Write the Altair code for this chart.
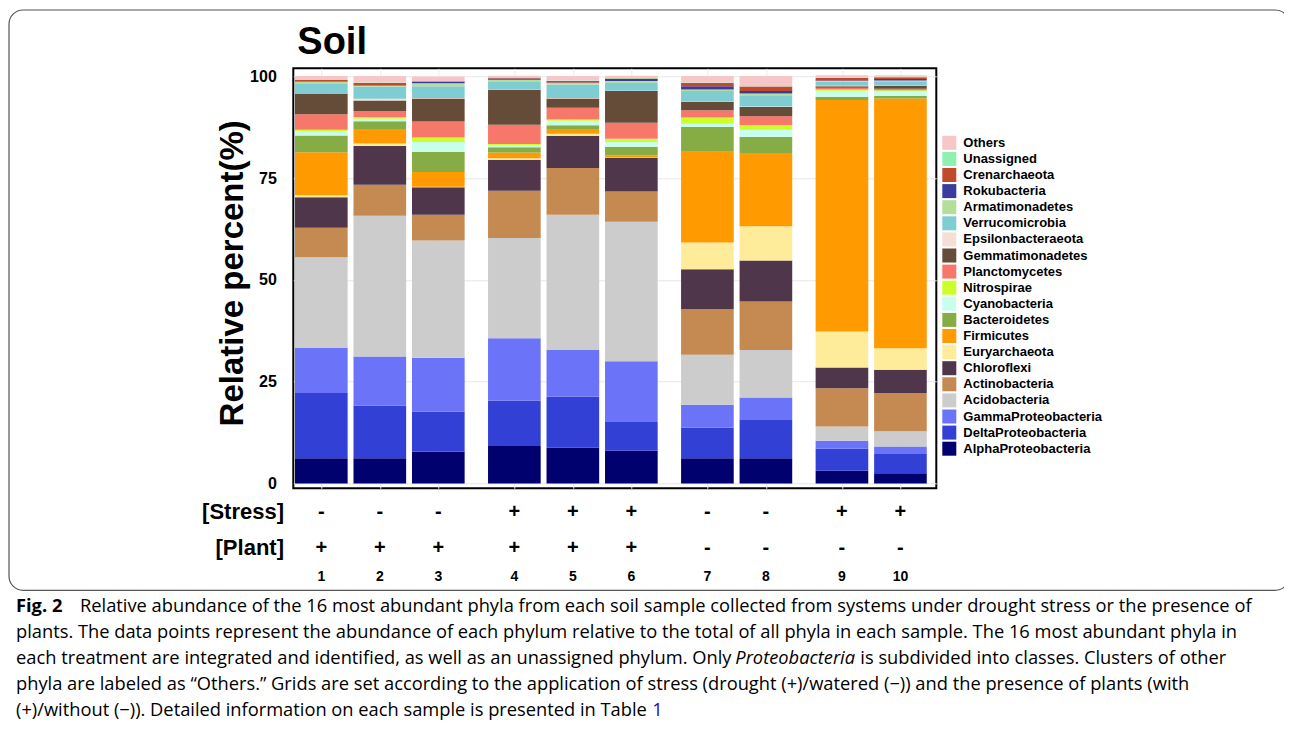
import altair as alt
import pandas as pd

# ---------------- data ----------------
samples = ["1", "2", "3", "4", "5", "6", "7", "8", "9", "10"]
stress = ["-", "-", "-", "+", "+", "+", "-", "-", "+", "+"]
plant = ["+", "+", "+", "+", "+", "+", "-", "-", "-", "-"]
group = [0, 0, 0, 1, 1, 1, 2, 2, 3, 3]

# stacking order, bottom -> top
phyla = ["AlphaProteobacteria", "DeltaProteobacteria", "GammaProteobacteria",
         "Acidobacteria", "Actinobacteria", "Chloroflexi", "Euryarchaeota",
         "Firmicutes", "Bacteroidetes", "Cyanobacteria", "Nitrospirae",
         "Planctomycetes", "Gemmatimonadetes", "Epsilonbacteraeota",
         "Verrucomicrobia", "Armatimonadetes", "Rokubacteria", "Crenarchaeota",
         "Unassigned", "Others"]
colors = ["#00006E", "#3340D6", "#6B73F9",
          "#CCCCCC", "#C48A52", "#50364B", "#FFEC9A",
          "#FF9A00", "#86AC45", "#C8FFEC", "#CCFF29",
          "#F7786B", "#654C39", "#F5DED2",
          "#7FCDD3", "#B2DF9A", "#3B3B9F", "#C24A2C",
          "#90F0B0", "#F7C6C7"]

alpha = [6.2, 6.2, 7.8, 9.2, 8.8, 8.0, 6.2, 6.2, 3.1, 2.5]
delta = [16.0, 12.9, 9.8, 11.1, 12.5, 7.1, 7.5, 9.4, 5.4, 4.7]
gamma = [11.1, 12.1, 13.3, 15.4, 11.5, 14.9, 5.6, 5.5, 2.0, 1.9]
acido = [22.3, 34.6, 28.8, 24.6, 33.2, 34.3, 12.3, 11.7, 3.5, 3.7]
actino = [7.2, 7.6, 6.3, 11.6, 11.5, 7.4, 11.2, 11.9, 9.4, 9.4]
chloro = [7.5, 9.5, 6.8, 7.6, 7.9, 8.4, 9.8, 10.1, 5.1, 5.7]
eury = [0.5, 0.6, 0.1, 0.4, 0.5, 0.1, 6.6, 8.4, 8.8, 5.3]
firm = [10.6, 3.6, 3.6, 1.4, 1.2, 0.4, 22.3, 18.0, 56.9, 61.4]
bact = [4.1, 1.9, 5.0, 1.3, 0.9, 2.1, 6.1, 3.9, 0.8, 0.6]
cyano = [1.1, 0.6, 2.4, 0.5, 1.1, 1.2, 0.8, 1.8, 1.5, 1.1]
nitro = [0.3, 0.4, 1.1, 0.3, 0.3, 0.8, 1.5, 1.1, 0.3, 0.3]
plancto = [3.8, 1.5, 3.9, 4.7, 2.9, 3.9, 1.8, 2.2, 0.4, 0.4]
gemm = [5.1, 2.6, 5.7, 8.6, 2.3, 7.8, 2.0, 2.3, 0.4, 0.7]
epsilon = [0.1, 0.4, 0.1, 0.1, 0.1, 0.1, 0.1, 0.1, 0.1, 0.1]
verruco = [2.4, 3.0, 2.9, 2.0, 3.3, 1.9, 2.6, 2.8, 1.0, 1.0]
armat = [0.4, 0.3, 0.7, 0.4, 0.4, 0.5, 0.4, 0.4, 0.2, 0.2]
roku = [0.1, 0.1, 0.4, 0.3, 0.1, 0.5, 0.8, 0.6, 0.1, 0.4]
cren = [0.4, 0.5, 0.1, 0.2, 0.4, 0.1, 0.8, 1.1, 0.6, 0.4]
unassigned = [0.1, 0.1, 0.1, 0.1, 0.1, 0.1, 0.1, 0.1, 0.1, 0.1]
others = [0.8, 1.6, 1.1, 0.4, 1.1, 0.6, 1.6, 2.5, 0.6, 0.4]

series = [alpha, delta, gamma, acido, actino, chloro, eury, firm, bact, cyano,
          nitro, plancto, gemm, epsilon, verruco, armat, roku, cren, unassigned, others]

y_ticks = [0, 25, 50, 75, 100]

rows = []
for r, (name, vals) in enumerate(zip(phyla, series)):
    for i, s in enumerate(samples):
        rows.append({"sample": s, "idx": i, "grp": group[i], "phylum": name,
                     "rank": r, "value": vals[i]})
df = pd.DataFrame(rows)

df_samples = pd.DataFrame({"sample": samples, "idx": list(range(len(samples))),
                           "grp": group, "stress": stress, "plant": plant})

GAP = 0.3
grid_pos = [i + GAP * g for i, g in enumerate(group)]

legend_order = phyla[::-1]
legend_colors = colors[::-1]

FONT = "Liberation Sans"
CAP_FONT = "Open Sans"
CAP_SIZE = 18.3

# ---------------- bars ----------------
bars = alt.Chart(df).transform_calculate(
    pos=f"datum.idx + {GAP} * datum.grp"
).transform_calculate(
    x0="datum.pos - 0.45", x1="datum.pos + 0.45"
).transform_stack(
    stack="value", groupby=["sample"], as_=["y0", "y1"],
    sort=[alt.SortField("rank", order="ascending")]
).mark_bar().encode(
    x=alt.X("x0:Q",
            scale=alt.Scale(domain=[-0.479, 10.513], nice=False, zero=False),
            axis=alt.Axis(values=grid_pos, labels=False, ticks=False, domain=False,
                          title=None, grid=True, gridColor="#EBEBEB", gridWidth=1)),
    x2="x1:Q",
    y=alt.Y("y0:Q",
            scale=alt.Scale(domain=[-1.2, 102.0], nice=False, zero=False),
            axis=alt.Axis(values=y_ticks, title=None, ticks=False, domain=False,
                          labelFont=FONT, labelFontSize=16, labelFontWeight="bold",
                          labelColor="black", labelPadding=17,
                          grid=True, gridColor="#E6E6E6", gridWidth=1)),
    y2="y1:Q",
    color=alt.Color("phylum:N",
                    scale=alt.Scale(domain=legend_order, range=legend_colors),
                    legend=alt.Legend(title=None, orient="none", legendX=649, legendY=67.5,
                                      symbolType="square", symbolSize=196,
                                      symbolStrokeWidth=0, symbolOpacity=1,
                                      labelFont=FONT, labelFontSize=13,
                                      labelFontWeight="bold", labelColor="black",
                                      labelOffset=7, rowPadding=2.1, padding=0,
                                      direction="vertical", columns=1,
                                      labelLimit=300)),
)

# ---------------- annotation helpers ----------------
def label(txt, x, y, size, weight="normal", align="left", font=FONT,
          color="black", angle=0, style="normal"):
    return alt.Chart(alt.Data(values=[{}])).mark_text(
        align=align, baseline="middle", font=font, fontSize=size,
        fontWeight=weight, color=color, angle=angle, fontStyle=style
    ).encode(x=alt.value(x), y=alt.value(y), text=alt.value(txt))


row_marks = alt.Chart(df_samples).transform_calculate(
    pos=f"datum.idx + {GAP} * datum.grp"
)
stress_txt = row_marks.mark_text(font=FONT, fontSize=20, fontWeight="bold",
                                 color="black", baseline="middle").encode(
    x="pos:Q", y=alt.value(443.7), text="stress:N")
plant_txt = row_marks.mark_text(font=FONT, fontSize=20, fontWeight="bold",
                                color="black", baseline="middle").encode(
    x="pos:Q", y=alt.value(479.7), text="plant:N")
num_txt = row_marks.mark_text(font=FONT, fontSize=14, fontWeight="bold",
                              color="black", baseline="middle").encode(
    x="pos:Q", y=alt.value(509), text="sample:N")

border = alt.Chart(alt.Data(values=[{}])).mark_rect(
    filled=False, stroke="#555555", strokeWidth=1.2, cornerRadius=14
).encode(x=alt.value(-284.3), x2=alt.value(996), y=alt.value(-58.3), y2=alt.value(522))

cap_y = [539, 565, 591, 617, 643]
CX = -277.3
caption = [
    label("Fig. 2", CX, cap_y[0], CAP_SIZE, weight="bold", font=CAP_FONT),
    label("Relative abundance of the 16 most abundant phyla from each soil sample collected from systems under drought stress or the presence of",
          -213.3, cap_y[0], CAP_SIZE, font=CAP_FONT),
    label("plants. The data points represent the abundance of each phylum relative to the total of all phyla in each sample. The 16 most abundant phyla in",
          CX, cap_y[1], CAP_SIZE, font=CAP_FONT),
    label("each treatment are integrated and identified, as well as an unassigned phylum. Only",
          CX, cap_y[2], CAP_SIZE, font=CAP_FONT),
    label("Proteobacteria", 442, cap_y[2], CAP_SIZE, font=CAP_FONT, style="italic"),
    label("is subdivided into classes. Clusters of other", 567, cap_y[2], CAP_SIZE, font=CAP_FONT),
    label("phyla are labeled as \u201cOthers.\u201d Grids are set according to the application of stress (drought (+)/watered (\u2212)) and the presence of plants (with",
          CX, cap_y[3], CAP_SIZE, font=CAP_FONT),
    label("(+)/without (\u2212)). Detailed information on each sample is presented in Table",
          CX, cap_y[4], CAP_SIZE, font=CAP_FONT),
    label("1", 359, cap_y[4], CAP_SIZE, font=CAP_FONT, color="#1A0DAB"),
]

texts = [
    label("Soil", 4, -25.5, 38, weight="bold"),
    label("Relative percent(%)", -60.3, 205, 33, weight="bold", align="center", angle=270),
    label("[Stress]", -9.3, 443.7, 22, weight="bold", align="right"),
    label("[Plant]", -9.3, 479.7, 22, weight="bold", align="right"),
]

chart = alt.layer(
    bars, stress_txt, plant_txt, num_txt, border, *texts, *caption
).properties(
    width=643, height=420,
    padding={"left": 285.3, "top": 60.3, "right": 347.7, "bottom": 234.7},
    autosize=alt.AutoSizeParams(type="none"),
    background="white",
).configure_view(stroke="black", strokeWidth=2)

chart.save("out.html", embed_options={"renderer": "svg", "actions": False})
